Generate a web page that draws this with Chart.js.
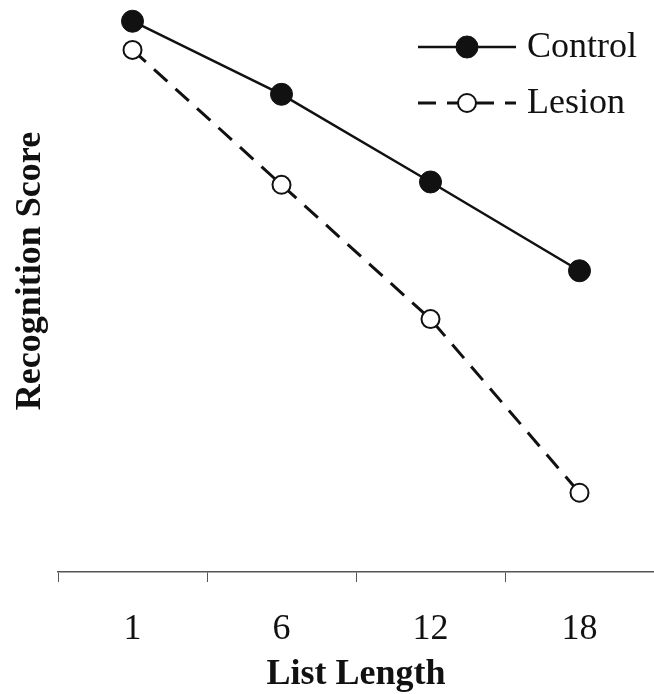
<!DOCTYPE html>
<html>
<head>
<meta charset="utf-8">
<script src="https://cdn.jsdelivr.net/npm/chart.js@4/dist/chart.umd.min.js"></script>
<style>
  html, body { margin: 0; padding: 0; background: #fff; overflow: hidden; }
  canvas { display: block; }
</style>
</head>
<body>
<canvas id="recogChart" width="654" height="694"></canvas>
<script>
// ====== Data ======
const listLengths = ["1", "6", "12", "18"];
const controlScores = [98.0, 85.0, 69.4, 53.6];
const lesionScores = [92.9, 68.9, 45.0, 14.1];

const serif = "'Liberation Serif', 'Times New Roman', serif";

// ====== Legend (line + marker) and the y title ======
const lineLegend = {
  id: "lineLegend",
  afterDraw(chart) {
    const c = chart.ctx;
    const x0 = 418, x1 = 516, rows = [47, 103];
    chart.data.datasets.forEach((ds, i) => {
      const y = rows[i];
      c.save();
      c.strokeStyle = ds.borderColor;
      c.lineWidth = ds.borderWidth;
      c.setLineDash(ds.borderDash || []);
      c.beginPath();
      c.moveTo(x0, y);
      c.lineTo(x1, y);
      c.stroke();
      c.setLineDash([]);
      c.beginPath();
      c.arc((x0 + x1) / 2, y, ds.pointRadius, 0, Math.PI * 2);
      c.fillStyle = ds.pointBackgroundColor;
      c.fill();
      c.lineWidth = ds.pointBorderWidth;
      c.strokeStyle = ds.pointBorderColor;
      c.stroke();
      c.fillStyle = "#111";
      c.font = "36px " + serif;
      c.textBaseline = "middle";
      c.fillText(ds.label, 527, y + 1);
      c.restore();
    });

    // y axis title, sits a bit above the middle like the original
    c.save();
    c.translate(31, 271);
    c.rotate(-Math.PI / 2);
    c.fillStyle = "#111";
    c.font = "bold 36px " + serif;
    c.textAlign = "center";
    c.textBaseline = "middle";
    c.fillText("Recognition Score", 0, 0);
    c.restore();
  }
};

const ctx = document.getElementById("recogChart").getContext("2d");

new Chart(ctx, {
  type: "line",
  data: {
    labels: listLengths,
    datasets: [{
      label: "Control",
      data: controlScores,
      borderColor: "#111",
      borderWidth: 2.5,
      pointRadius: 11,
      pointBackgroundColor: "#111",
      pointBorderColor: "#111",
      pointBorderWidth: 1,
      tension: 0,
      clip: false
    }, {
      label: "Lesion",
      data: lesionScores,
      borderColor: "#111",
      borderWidth: 3,
      borderDash: [18, 11],
      pointRadius: 9,
      pointBackgroundColor: "#fff",
      pointBorderColor: "#111",
      pointBorderWidth: 2,
      tension: 0,
      clip: false
    }]
  },
  options: {
    responsive: false,
    animation: false,
    layout: { autoPadding: false, padding: { top: 10, left: 58, right: 0, bottom: 1 } },
    plugins: {
      legend: { display: false },
      tooltip: { enabled: false }
    },
    scales: {
      x: {
        type: "category",
        offset: true,
        afterFit(scale) {
          scale.paddingLeft = 0;
          scale.paddingRight = 0;
          scale.height = 121;
        },
        grid: {
          offset: true,
          drawOnChartArea: false,
          drawTicks: true,
          tickLength: 10,
          color: "#555"
        },
        border: { display: true, color: "#555", width: 1.5 },
        ticks: {
          color: "#111",
          padding: 30,
          font: { family: serif, size: 36, lineHeight: 1 }
        },
        title: {
          display: true,
          text: "List Length",
          color: "#111",
          padding: { top: 9, bottom: 0 },
          font: { family: serif, size: 36, weight: "bold", lineHeight: 1 }
        }
      },
      y: {
        display: false,
        min: 0,
        max: 100
      }
    }
  },
  plugins: [lineLegend]
});
</script>
</body>
</html>
